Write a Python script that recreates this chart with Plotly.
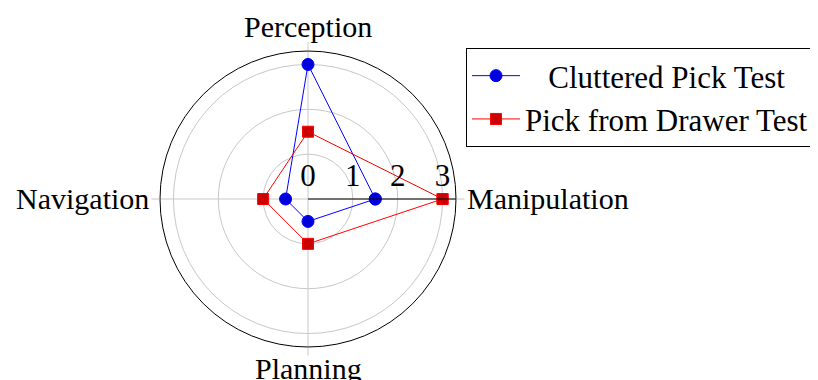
import plotly.graph_objects as go

# axes of the radar chart, counter-clockwise from the right
axes = ["Manipulation", "Perception", "Navigation", "Planning"]

cluttered = [1.5, 3.0, 0.5, 0.5]
drawer = [3.0, 1.5, 1.0, 1.0]

radial_ticks = [0, 1, 2, 3]

FONT = "Liberation Serif"
SIZE = 30
NBSP = "\u00a0"

# the page body adds an 8px margin, so positions below are shifted by it
W, H = 818, 380

# where each axis name goes (figure pixels) and how it is anchored
label_pos = {
    "Manipulation": (457, 190, "left", "middle"),
    "Perception": (300, 18, "center", "middle"),
    "Navigation": (143, 190, "right", "middle"),
    "Planning": (300, 360, "center", "middle"),
}


def closed(values):
    return values + values[:1]


fig = go.Figure()

fig.add_trace(go.Scatterpolar(
    r=closed(cluttered), theta=closed(axes),
    name=NBSP * 3 + "Cluttered Pick Test",
    mode="lines+markers",
    line=dict(color="#0000ff", width=1),
    marker=dict(symbol="circle", size=12, color="#0000dd",
                line=dict(color="#0000ff", width=1)),
))

fig.add_trace(go.Scatterpolar(
    r=closed(drawer), theta=closed(axes),
    name="Pick from Drawer Test",
    mode="lines+markers",
    line=dict(color="#ff0000", width=1),
    marker=dict(symbol="square", size=11, color="#cc0000",
                line=dict(color="#ff0000", width=1)),
))

for name in axes:
    px_x, px_y, xa, ya = label_pos[name]
    fig.add_annotation(
        text=name, x=px_x / W, y=1 - px_y / H,
        xref="paper", yref="paper", xanchor=xa, yanchor=ya,
        showarrow=False,
        font=dict(family=FONT, size=SIZE, color="black"),
    )

fig.update_layout(
    width=W, height=H,
    margin=dict(l=0, r=0, t=0, b=0),
    paper_bgcolor="white",
    font=dict(family=FONT, size=SIZE, color="black"),
    polar=dict(
        domain=dict(x=[152 / W, 448 / W], y=[41 / H, 337 / H]),
        bgcolor="white",
        angularaxis=dict(
            type="category",
            categoryarray=axes,
            direction="counterclockwise",
            rotation=0,
            showline=True, linecolor="black", linewidth=1,
            showgrid=True, gridcolor="#c8c8c8", gridwidth=1,
            ticks="outside", ticklen=8, tickcolor="#c8c8c8",
            showticklabels=False,
        ),
        radialaxis=dict(
            range=[0, 3.3],
            tickvals=radial_ticks,
            angle=0,
            side="counterclockwise",
            showline=True, linecolor="black", linewidth=1,
            showgrid=True, gridcolor="#c8c8c8", gridwidth=1,
            ticks="",
            tickfont=dict(family=FONT, size=31, color="black"),
        ),
    ),
    legend=dict(
        x=458 / W, y=1 - 40 / H,
        xanchor="left", yanchor="top",
        bgcolor="white",
        bordercolor="black", borderwidth=1,
        itemwidth=48,
        font=dict(family=FONT, size=31, color="black"),
    ),
)

fig.write_html("out.html")
